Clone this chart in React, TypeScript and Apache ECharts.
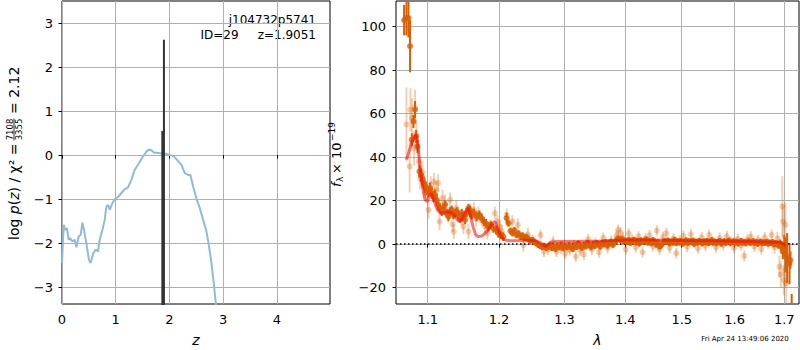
import React, { useEffect, useRef } from "react";
import * as echarts from "echarts";

const F = "DejaVu Sans";

// ---- left panel: log p(z) ----
const pzZ = [0, 0.031, 0.062, 0.093, 0.124, 0.155, 0.193, 0.236, 0.267, 0.311, 0.348, 0.379, 0.41, 0.453, 0.503, 0.534, 0.578, 0.627, 0.671, 0.702, 0.752, 0.795, 0.826, 0.857, 0.888, 0.938, 0.981, 1.043, 1.106, 1.168, 1.23, 1.292, 1.354, 1.435, 1.509, 1.571, 1.621, 1.665, 1.708, 1.789, 1.882, 1.944, 2.006, 2.068, 2.13, 2.224, 2.286, 2.348, 2.391, 2.441, 2.503, 2.565, 2.627, 2.689, 2.739, 2.783, 2.826, 2.863, 2.9, 2.95];
const pzLogP = [-2.45, -1.58, -1.7, -1.66, -1.92, -1.89, -1.96, -1.92, -2.09, -1.85, -1.81, -1.53, -1.7, -2.0, -2.38, -2.45, -2.24, -2.14, -2.19, -1.92, -1.7, -1.47, -1.17, -1.13, -1.24, -1.09, -1.0, -0.95, -0.86, -0.77, -0.73, -0.56, -0.33, -0.18, -0.03, 0.08, 0.13, 0.11, 0.06, 0.05, 0.03, 0.03, 0.0, -0.015, -0.09, -0.22, -0.41, -0.45, -0.45, -0.71, -0.98, -1.2, -1.47, -1.73, -2.08, -2.45, -2.91, -3.36, -3.8, -4.3];
const peakZ = [1.898, 1.868];
const peakTop = [2.62, 0.55];
const peakBottom = -5;
const zTicks = [0, 1, 2, 3, 4];
const logPTicks = [-3, -2, -1, 0, 1, 2, 3];

// ---- right panel: spectrum ----
const lamTicks = [1.1, 1.2, 1.3, 1.4, 1.5, 1.6, 1.7];
const fluxTicks = [-20, 0, 20, 40, 60, 80, 100];

// [lambda, flux, error]
const darkPoints = [
  [1.0687, 103, 7], [1.0718, 104, 8], [1.0744, 104, 9], [1.0765, 91, 12],
  [1.0788, 48, 3], [1.081, 56.4, 3], [1.0831, 61.8, 4], [1.0845, 49.5, 3], [1.0863, 44.9, 3], [1.089, 33.4, 3],
  [1.0907, 31.8, 3], [1.0933, 29.5, 3], [1.0951, 28, 3], [1.097, 26.2, 2.5], [1.0987, 24.9, 2.5], [1.101, 24.1, 2.5],
  [1.1031, 25.7, 2.5], [1.1054, 23.4, 2.5], [1.1077, 21.8, 2.5], [1.1098, 22.6, 2.5], [1.1121, 20.3, 2.5], [1.1144, 18, 2.5],
  [1.1166, 16.5, 2], [1.119, 14.9, 2], [1.1213, 16.5, 2], [1.1235, 18, 2], [1.1258, 14.2, 2], [1.1281, 12.6, 2],
  [1.1304, 14.9, 2], [1.1327, 15.7, 2], [1.1351, 13.4, 2], [1.1373, 14.2, 2], [1.1396, 14.9, 2], [1.142, 13.4, 2],
  [1.1442, 11.9, 2], [1.1466, 14.2, 2], [1.149, 12.6, 2], [1.1513, 11.1, 2], [1.1536, 14.2, 2], [1.156, 16.5, 2],
  [1.1583, 15.7, 2], [1.1606, 13.4, 2], [1.1639, 14.2, 2], [1.1677, 12.6, 2], [1.1715, 13.4, 2], [1.1749, 11.9, 2],
  [1.1782, 10.3, 2], [1.1811, 9.5, 2], [1.1845, 8.0, 2], [1.1879, 8.8, 2], [1.1918, 7.2, 2], [1.1956, 6.5, 2],
  [1.1991, 4.9, 2], [1.2025, 4.2, 2], [1.2064, 3.4, 2], [1.2113, 11.9, 2.5],
  [1.214, 9.5, 1.5], [1.217, 6.0, 1.5], [1.22, 5.0, 1.5], [1.223, 6.3, 1.5], [1.226, 4.2, 1.5], [1.229, 4.8, 1.5],
  [1.232, 3.4, 1.5], [1.235, 3.9, 1.5], [1.238, 2.8, 1.5], [1.241, 3.2, 1.5], [1.244, 2.3, 1.5], [1.247, 1.5, 1.3],
  [1.25, 1.9, 1.3], [1.253, 0.8, 1.3], [1.256, 0.3, 1.3], [1.259, -0.4, 1.3], [1.262, -0.9, 1.3], [1.265, -1.5, 1.3],
  [1.268, -0.8, 1.3], [1.271, -1.8, 1.3], [1.274, -1.2, 1.3], [1.277, -0.6, 1.3], [1.28, -1.9, 1.3], [1.283, -1.1, 1.3],
  [1.286, -2.2, 1.3], [1.289, -0.7, 1.3], [1.292, -1.5, 1.3], [1.295, -0.3, 1.3], [1.298, -2.0, 1.3], [1.301, -0.9, 1.3],
  [1.304, -1.6, 1.3], [1.307, -0.5, 1.3], [1.31, -1.2, 1.3], [1.313, -2.4, 1.3], [1.316, -0.8, 1.3], [1.319, -1.4, 1.3],
  [1.322, 0.2, 1.3], [1.325, -1.0, 1.3], [1.328, -1.8, 1.3], [1.331, -0.4, 1.3], [1.334, -1.1, 1.3], [1.337, 0.5, 1.3],
  [1.34, -0.6, 1.3], [1.343, -1.5, 1.3], [1.346, 0.1, 1.3], [1.349, -0.9, 1.3], [1.352, 0.4, 1.3], [1.355, -0.3, 1.3],
  [1.358, -1.2, 1.3], [1.361, 0.6, 1.3], [1.364, -0.2, 1.3], [1.367, 0.9, 1.3], [1.37, -0.7, 1.3], [1.373, 0.3, 1.3],
  [1.376, 1.0, 1.3], [1.379, -0.4, 1.3], [1.382, 0.7, 1.3], [1.385, 1.8, 1.3], [1.388, 2.6, 1.3], [1.391, 1.9, 1.3],
  [1.394, 2.4, 1.3], [1.397, 1.2, 1.3], [1.4, 1.6, 1.3], [1.403, 0.8, 1.3], [1.406, 1.9, 1.3], [1.409, 0.5, 1.3],
  [1.412, 1.3, 1.3], [1.415, 2.0, 1.3], [1.418, 0.7, 1.3], [1.421, 1.5, 1.3], [1.424, 0.2, 1.3], [1.427, 1.7, 1.3],
  [1.43, 0.9, 1.3], [1.433, 1.4, 1.3], [1.436, 2.1, 1.3], [1.439, 0.6, 1.3], [1.442, 1.2, 1.3], [1.445, 0.4, 1.3],
  [1.448, 1.8, 1.3], [1.451, 1.0, 1.3], [1.454, -0.3, 1.3], [1.457, 0.9, 1.3], [1.46, -1.2, 1.3], [1.463, -0.6, 1.3],
  [1.466, 0.5, 1.3], [1.469, 1.3, 1.3], [1.472, 0.8, 1.3], [1.475, 1.6, 1.3], [1.478, 0.3, 1.3], [1.481, 1.1, 1.3],
  [1.484, 0.6, 1.3], [1.487, 1.9, 1.3], [1.49, 0.4, 1.3], [1.493, 1.2, 1.3], [1.496, 0.7, 1.3], [1.499, 1.5, 1.3],
  [1.502, 0.2, 1.3], [1.505, 1.0, 1.3], [1.508, 1.7, 1.3], [1.511, 0.5, 1.3], [1.514, 1.3, 1.3], [1.517, 0.8, 1.3],
  [1.52, 1.6, 1.3], [1.523, 0.1, 1.3], [1.526, 1.1, 1.3], [1.529, 0.6, 1.3], [1.532, 1.4, 1.3], [1.535, 0.9, 1.3],
  [1.538, 0.3, 1.3], [1.541, 1.2, 1.3], [1.544, 0.7, 1.3], [1.547, 1.5, 1.3], [1.55, 0.4, 1.3], [1.553, 1.0, 1.3],
  [1.556, 1.8, 1.3], [1.559, 0.6, 1.3], [1.562, 1.1, 1.3], [1.565, 0.3, 1.3], [1.568, 0.9, 1.3], [1.571, 1.4, 1.3],
  [1.574, 0.2, 1.3], [1.577, 0.8, 1.3], [1.58, 1.3, 1.3], [1.583, 0.5, 1.3], [1.586, 1.0, 1.3], [1.589, 1.6, 1.3],
  [1.592, 0.4, 1.3], [1.595, 0.9, 1.3], [1.598, 1.3, 1.3], [1.601, 0.7, 1.3], [1.604, 1.1, 1.3], [1.607, 0.2, 1.3],
  [1.61, 0.8, 1.3], [1.613, 1.4, 1.3], [1.616, 0.6, 1.3], [1.619, 1.0, 1.3], [1.622, 0.3, 1.3], [1.625, 0.9, 1.3],
  [1.628, 1.2, 1.3], [1.631, 0.5, 1.3], [1.634, 0.8, 1.3], [1.637, 1.3, 1.3], [1.64, 0.4, 1.3], [1.643, 0.9, 1.3],
  [1.646, 0.1, 1.3], [1.649, 0.7, 1.3], [1.652, 1.1, 1.3], [1.655, 0.3, 1.3], [1.658, 0.8, 1.3], [1.661, 0.5, 1.3],
  [1.664, 1.0, 1.3], [1.667, 0.2, 1.3], [1.67, 0.7, 1.3], [1.673, 0.4, 1.3], [1.676, 0.9, 1.3], [1.679, -0.2, 1.3],
  [1.682, 0.5, 1.3], [1.685, 0.1, 1.3], [1.688, -0.6, 1.5], [1.691, 0.3, 1.8],
  [1.694, -1.5, 3], [1.697, -3.0, 4], [1.7, -0.8, 5], [1.703, -5.0, 8], [1.706, -6.5, 11.5], [1.711, -9.0, 9.5],
  [1.713, -7.4, 4], [1.7155, -40, 17],
];

const lightPoints = [
  [1.0718, 55, 17], [1.076, 35.7, 12], [1.077, 61.8, 10], [1.079, 58, 9], [1.082, 44, 8], [1.0831, 63, 8],
  [1.085, 50, 7], [1.088, 38, 6], [1.09, 30, 5], [1.093, 33, 5], [1.0955, 27, 5], [1.0975, 24, 4],
  [1.101, 15.7, 4], [1.104, 27.2, 4], [1.1085, 28.7, 4], [1.1115, 24.9, 4], [1.114, 28, 4], [1.116, 10.3, 4],
  [1.12, 21.1, 4], [1.1235, 18.8, 4], [1.128, 13.4, 3.5], [1.1305, 20.3, 3.5], [1.134, 9.0, 3.5], [1.1355, 5.7, 3.5],
  [1.139, 16.5, 3.5], [1.142, 13.4, 3.5], [1.1466, 11.9, 3.5], [1.149, 8.0, 3.5], [1.156, 5.7, 3.5], [1.1585, 15.0, 3.5],
  [1.164, 15.7, 3.5], [1.167, 11.5, 3.5], [1.1702, 14.2, 3], [1.1749, 11.1, 3], [1.1796, 8.0, 3], [1.183, 5.0, 3],
  [1.194, 14.2, 3], [1.1976, 10.3, 3], [1.201, 8.0, 3], [1.204, 6.0, 3], [1.2113, 13.4, 3], [1.2197, 10.3, 3],
  [1.228, 8.8, 3], [1.2363, -0.5, 3], [1.243, 4.5, 3], [1.2504, 1.8, 2.5], [1.2625, 4.2, 2.5], [1.2677, -3.5, 2.5],
  [1.274, -2.5, 2.5], [1.282, 1.1, 2.5], [1.2872, -3.5, 2.5], [1.2946, -2.0, 2.5], [1.301, -4.5, 2.5], [1.308, -2.8, 2.5],
  [1.315, -0.5, 2.5], [1.318, -5.8, 2.5], [1.325, -3.0, 2.5], [1.331, -4.8, 2.5], [1.338, 2.2, 2.5], [1.344, -2.5, 2.5],
  [1.35, 0.5, 2.5], [1.356, -3.8, 2.5], [1.363, 2.8, 2.5], [1.37, -1.8, 2.5], [1.376, 1.5, 2.5], [1.385, 4.0, 2.5],
  [1.388, 6.5, 2.5], [1.392, 5.2, 2.5], [1.396, 3.0, 2.5], [1.401, -2.5, 2.5], [1.406, 4.8, 2.5], [1.412, 2.0, 2.5],
  [1.418, -1.5, 2.5], [1.423, 3.5, 2.5], [1.43, -3.8, 2.5], [1.435, 2.5, 2.5], [1.442, 4.0, 2.5], [1.448, -1.0, 2.5],
  [1.455, 6.2, 2.5], [1.46, -2.5, 2.5], [1.466, 3.2, 2.5], [1.472, 5.0, 2.5], [1.478, -1.8, 2.5], [1.485, 2.6, 2.5],
  [1.49, -4.2, 2.5], [1.496, 1.5, 2.5], [1.503, 3.8, 2.5], [1.51, -1.2, 2.5], [1.517, 4.5, 2.5], [1.523, 0.6, 2.5],
  [1.53, -2.0, 2.5], [1.537, 3.0, 2.5], [1.544, -0.8, 2.5], [1.551, 4.2, 2.5], [1.557, 1.2, 2.5], [1.564, -1.6, 2.5],
  [1.571, 2.8, 2.5], [1.578, -0.5, 2.5], [1.585, 3.6, 2.5], [1.592, 1.0, 2.5], [1.599, -1.8, 2.5], [1.606, 2.4, 2.5],
  [1.613, -0.6, 2.5], [1.619, -5.5, 2.5], [1.625, 2.0, 2.5], [1.632, 3.4, 2.5], [1.639, -1.2, 2.5], [1.646, 1.8, 2.5],
  [1.653, -2.4, 2.5], [1.66, 3.0, 2.5], [1.667, 0.4, 2.5], [1.674, 4.2, 2.5], [1.68, -1.5, 3], [1.686, 2.6, 3],
  [1.69, -10.5, 5], [1.693, -14.0, 6], [1.696, 17.2, 14], [1.6975, 10.3, 8], [1.699, -16.6, 7], [1.701, -12.0, 8],
  [1.7025, 8.8, 10], [1.704, -18.0, 10],
];

const modelLam = [1.0718, 1.0752, 1.0788, 1.0818, 1.084, 1.0863, 1.0884, 1.0907, 1.0929, 1.0964, 1.0996, 1.1018, 1.1044, 1.1071, 1.1098, 1.1131, 1.1176, 1.1221, 1.1268, 1.1313, 1.1359, 1.1406, 1.1452, 1.1498, 1.1532, 1.156, 1.1592, 1.1625, 1.1663, 1.1702, 1.1749, 1.1796, 1.1845, 1.1903, 1.1941, 1.1976, 1.201, 1.2049, 1.2098, 1.2172, 1.23, 1.24, 1.255, 1.263, 1.27, 1.278, 1.29, 1.32, 1.36, 1.4, 1.45, 1.5, 1.55, 1.6, 1.65, 1.69, 1.697, 1.702];
const modelFlux = [38.8, 42.6, 46.5, 48.8, 50.3, 48, 40.3, 32.6, 26.4, 20.3, 19.5, 21.8, 23.4, 21.1, 18.8, 15.7, 14.2, 14.2, 14.9, 14.5, 13.4, 11.1, 10.3, 13.4, 15.7, 16.5, 12.6, 8.0, 4.2, 3.4, 3.7, 4.9, 6.5, 9.5, 10.3, 8.0, 4.9, 2.6, 1.8, 1.5, 1.6, 1.7, 1.6, 0.5, -1.2, 0.8, 1.1, 1.2, 1.4, 1.8, 1.8, 1.6, 1.5, 1.3, 1.0, 0.8, 0.2, -1.2];

const lamMin = 1.0582;
const lamMax = 1.7309;

const ORANGE = "#d95f02";
const minus = (v: number | string) => String(v).replace("-", "\u2212");

export default function App() {
  const ref = useRef<HTMLDivElement>(null);
  useEffect(() => {
    if (!ref.current) return;
    const chart = echarts.init(ref.current, undefined, { renderer: "svg" });

    const ln = Math.log;
    const darkData = darkPoints.map((p) => [ln(p[0]), p[1], p[2]]);
    const lightData = lightPoints.map((p) => [ln(p[0]), p[1], p[2]]);
    const modelData = modelLam.map((l, i) => [ln(l), modelFlux[i]]);

    const errBar = (color: string, width: number) => (params: any, api: any) => {
      const x = api.value(0), y = api.value(1), e = api.value(2);
      const p1 = api.coord([x, y - e]);
      const p2 = api.coord([x, y + e]);
      return {
        type: "line",
        shape: { x1: p1[0], y1: p1[1], x2: p2[0], y2: p2[1] },
        style: { stroke: color, lineWidth: width },
      };
    };

    const tickLabel = { color: "#000", fontSize: 13, fontFamily: F };
    const split = { show: true, lineStyle: { color: "#b0b0b0", width: 1 } };
    const tick = { show: true, length: 3.5, lineStyle: { color: "#000", width: 1 } };
    const txt = (text: string, x: number, y: number, size: number, extra: any = {}) => ({
      type: "text", x, y,
      style: { text, fontSize: size, fontFamily: F, fill: "#000", align: "left", verticalAlign: "middle", ...extra },
    });

    chart.setOption({
      animation: false,
      grid: [
        { left: 62, top: 1, width: 268, height: 303, show: true, borderColor: "#000", borderWidth: 1, backgroundColor: "transparent", containLabel: false, outerBoundsMode: "none" },
        { left: 396, top: 1, width: 403, height: 303, show: true, borderColor: "#000", borderWidth: 1, backgroundColor: "transparent", containLabel: false, outerBoundsMode: "none" },
      ],
      xAxis: [
        {
          type: "value", gridIndex: 0, min: 0, max: 4.99,
          axisLine: { show: false },
          axisTick: { ...tick, customValues: zTicks },
          axisLabel: { ...tickLabel, margin: 9, customValues: zTicks },
          splitLine: split,
          name: "z", nameLocation: "middle", nameGap: 29,
          nameTextStyle: { color: "#000", fontSize: 14, fontFamily: F, fontStyle: "italic" },
        },
        {
          type: "value", gridIndex: 1, min: ln(lamMin), max: ln(lamMax),
          axisLine: { show: false },
          axisTick: { ...tick, customValues: lamTicks.map(ln) },
          axisLabel: { ...tickLabel, margin: 9, customValues: lamTicks.map(ln), formatter: (v: number) => Math.exp(v).toFixed(1) },
          splitLine: split,
          name: "λ", nameLocation: "middle", nameGap: 29,
          nameTextStyle: { color: "#000", fontSize: 14, fontFamily: F, fontStyle: "italic" },
        },
      ],
      yAxis: [
        {
          type: "value", gridIndex: 0, min: -3.38, max: 3.5,
          axisLine: { show: false },
          axisTick: { ...tick, customValues: logPTicks },
          axisLabel: { ...tickLabel, margin: 9, customValues: logPTicks, formatter: (v: number) => minus(v) },
          splitLine: split,
        },
        {
          type: "value", gridIndex: 1, min: -27.6, max: 111.8,
          axisLine: { show: false },
          axisTick: { ...tick, customValues: fluxTicks },
          axisLabel: { ...tickLabel, margin: 10, customValues: fluxTicks, formatter: (v: number) => minus(v) },
          splitLine: split,
        },
      ],
      series: [
        {
          type: "line", xAxisIndex: 0, yAxisIndex: 0, z: 3,
          data: pzZ.map((z, i) => [z, pzLogP[i]]),
          showSymbol: false, clip: true,
          lineStyle: { color: "#8fbbd9", width: 2 },
        },
        ...peakZ.map((z, i) => ({
          type: "line", xAxisIndex: 0, yAxisIndex: 0, z: 4,
          data: [[z, peakBottom], [z, peakTop[i]]],
          showSymbol: false, clip: true,
          lineStyle: { color: "#333333", width: 2 },
        })),
        {
          type: "custom", xAxisIndex: 1, yAxisIndex: 1, z: 2, clip: true,
          renderItem: errBar("rgba(217,95,2,0.3)", 2),
          data: lightData, encode: { x: 0, y: 1 },
        },
        {
          type: "scatter", xAxisIndex: 1, yAxisIndex: 1, z: 3, clip: true,
          symbolSize: 6,
          itemStyle: { color: "rgba(217,95,2,0.38)" },
          data: lightData.map((d) => [d[0], d[1]]),
        },
        {
          type: "custom", xAxisIndex: 1, yAxisIndex: 1, z: 4, clip: true,
          renderItem: errBar(ORANGE, 2),
          data: darkData, encode: { x: 0, y: 1 },
        },
        {
          type: "scatter", xAxisIndex: 1, yAxisIndex: 1, z: 5, clip: true,
          symbolSize: 6,
          itemStyle: { color: ORANGE },
          data: darkData.map((d) => [d[0], d[1]]),
        },
        {
          type: "line", xAxisIndex: 1, yAxisIndex: 1, z: 6, clip: true,
          data: modelData, showSymbol: false,
          lineStyle: { color: "rgba(255,0,0,0.55)", width: 3 },
        },
        {
          type: "line", xAxisIndex: 1, yAxisIndex: 1, z: 7,
          data: [],
          markLine: {
            silent: true, symbol: "none", label: { show: false },
            lineStyle: { color: "#000", type: [1.5, 2.5], width: 1.5 },
            data: [{ yAxis: 0 }],
          },
        },
      ],
      graphic: [
        txt("j104732p5741", 316, 19.5, 12, { align: "right" }),
        txt("ID=29     z=1.9051", 316, 35, 12, { align: "right" }),
        {
          type: "group", x: 14, y: 240, rotation: Math.PI / 2,
          children: [
            {
              type: "text", x: 0, y: 0,
              style: {
                text: "{n|log }{i|p}{n|(}{i|z}{n|) / χ² =}",
                rich: {
                  n: { fontSize: 14, fontFamily: F, fill: "#000" },
                  i: { fontSize: 14, fontFamily: F, fontStyle: "italic", fill: "#000" },
                },
                align: "left", verticalAlign: "middle",
              },
            },
            txt("7108", 110.5, -4.5, 8.5, { align: "center" }),
            { type: "line", shape: { x1: 99.5, y1: 0, x2: 121.5, y2: 0 }, style: { stroke: "#000", lineWidth: 0.8 } },
            txt("3355", 110.5, 5, 8.5, { align: "center" }),
            txt("= 2.12", 126, 0, 14),
          ],
        },
        {
          type: "group", x: 336, y: 187, rotation: Math.PI / 2,
          children: [
            txt("f", 0, 0, 13, { fontStyle: "italic" }),
            txt("λ", 5, 3.5, 9),
            txt("× 10", 13, 0, 13),
            txt("\u221219", 46, -4.5, 9),
          ],
        },
        txt("Fri Apr 24 13:49:06 2020", 745, 339, 7, { align: "center" }),
      ],
    });
    return () => chart.dispose();
  }, []);
  return <div ref={ref} style={{ position: "absolute", left: 0, top: 0, width: 800, height: 350, background: "#fff" }} />;
}
